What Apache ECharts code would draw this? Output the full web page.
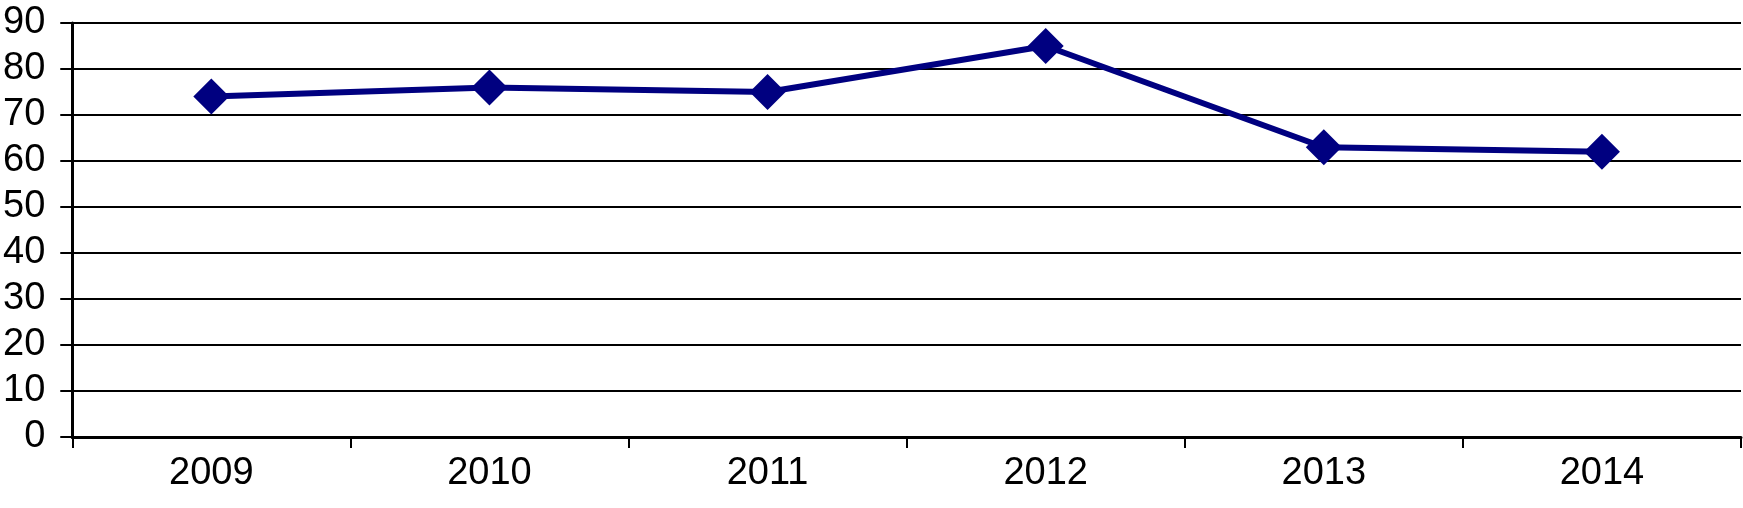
<!DOCTYPE html>
<html>
<head>
<meta charset="utf-8">
<script src="https://cdn.jsdelivr.net/npm/echarts@6/dist/echarts.min.js"></script>
<style>html,body{margin:0;padding:0;background:#fff}#c{width:1743px;height:508px}</style>
</head>
<body>
<div id="c"></div>
<script>
const categories = ['2009', '2010', '2011', '2012', '2013', '2014'];
const values = [74, 76, 75, 85, 63, 62];
const yTicks = [0, 10, 20, 30, 40, 50, 60, 70, 80, 90];

const chart = echarts.init(document.getElementById('c'), null, {renderer: 'canvas'});
const labelFont = {color: '#000', fontSize: 38, fontFamily: 'Liberation Sans'};
chart.setOption({
  animation: false,
  backgroundColor: '#fff',
  grid: {left: 70, right: 2, top: 23, bottom: 71, containLabel: false},
  xAxis: {
    type: 'category',
    data: categories,
    boundaryGap: true,
    axisLine: {lineStyle: {color: '#000', width: 3}},
    axisTick: {show: true, length: 11, lineStyle: {color: '#000', width: 2}},
    axisLabel: Object.assign({margin: 18}, labelFont),
    splitLine: {show: false}
  },
  yAxis: {
    type: 'value',
    min: yTicks[0],
    max: yTicks[yTicks.length - 1],
    interval: 10,
    axisLine: {show: true, lineStyle: {color: '#000', width: 3}},
    axisTick: {show: true, length: 12, lineStyle: {color: '#000', width: 2}},
    axisLabel: Object.assign({margin: 27}, labelFont),
    splitLine: {show: true, lineStyle: {color: '#000', width: 2}}
  },
  series: [{
    type: 'line',
    data: values,
    symbol: 'diamond',
    symbolSize: [36, 36],
    lineStyle: {color: '#000080', width: 6},
    itemStyle: {color: '#000080'},
    z: 5
  }]
});
</script>
</body>
</html>
